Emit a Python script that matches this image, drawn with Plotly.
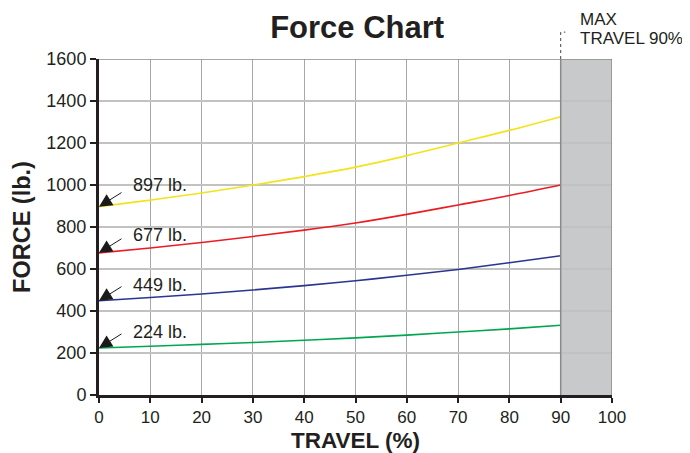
import plotly.graph_objects as go

travel = [0, 10, 20, 30, 40, 50, 60, 70, 80, 90]
force_897 = [897, 928, 962, 1000, 1040, 1085, 1140, 1200, 1260, 1325]
force_677 = [677, 700, 726, 755, 785, 819, 860, 905, 950, 1000]
force_449 = [449, 464, 481, 500, 521, 544, 570, 598, 630, 663]
force_224 = [224, 232, 241, 250, 261, 272, 285, 300, 315, 332]
labels = ["897 lb.", "677 lb.", "449 lb.", "224 lb."]
start_values = [897, 677, 449, 224]
x_ticks = [0, 10, 20, 30, 40, 50, 60, 70, 80, 90, 100]
y_ticks = [0, 200, 400, 600, 800, 1000, 1200, 1400, 1600]
max_travel = 90

series = [
    (force_897, "#f2e31b"),
    (force_677, "#ec1c24"),
    (force_449, "#2b3590"),
    (force_224, "#00a651"),
]

fig = go.Figure()
for vals, col in series:
    fig.add_trace(go.Scatter(x=travel, y=vals, mode="lines",
                             line=dict(color=col, width=1.6, shape="spline"),
                             showlegend=False, hoverinfo="skip"))

font_main = "Liberation Sans, Arial, sans-serif"
ink = "#231f20"

# shaded max travel zone
fig.add_shape(type="rect", xref="x", yref="y", x0=max_travel, x1=100, y0=0, y1=1600,
              fillcolor="#c8c9cb", line=dict(width=0), layer="below")
# darker line at 90
fig.add_shape(type="line", xref="x", yref="y", x0=max_travel, x1=max_travel, y0=0, y1=1600,
              line=dict(color="#8a8a8a", width=1.5))
# top and right borders
fig.add_shape(type="line", xref="x", yref="y", x0=0, x1=100, y0=1600, y1=1600,
              line=dict(color="#8a8a8a", width=1.5))
fig.add_shape(type="line", xref="x", yref="y", x0=100, x1=100, y0=0, y1=1600,
              line=dict(color="#8a8a8a", width=1.5))
# dashed bracket to label
fig.add_shape(type="path", xref="paper", yref="paper",
              path="M 0.9 1.0 L 0.9 1.08 L 0.909 1.08",
              line=dict(color="#444444", width=1, dash="dot"))

label_y = [1000, 760, 524, 300]
for lab, v, ly in zip(labels, start_values, label_y):
    fig.add_annotation(x=0, y=v, xref="x", yref="y", text="", showarrow=True,
                       ax=24, ay=-15, axref="pixel", ayref="pixel",
                       arrowhead=2, arrowsize=2.6, arrowwidth=1.0, arrowcolor="#1a1a1a")
    fig.add_annotation(x=6.2, y=ly, xref="x", yref="y", text=lab, showarrow=False,
                       xanchor="left", yanchor="middle",
                       font=dict(family=font_main, size=18, color=ink))

fig.add_annotation(x=0.934, y=1.119, xref="paper", yref="paper", xanchor="left", yanchor="middle",
                   text="MAX", showarrow=False,
                   font=dict(family=font_main, size=17, color=ink))
fig.add_annotation(x=0.934, y=1.061, xref="paper", yref="paper", xanchor="left", yanchor="middle",
                   text="TRAVEL 90%", showarrow=False,
                   font=dict(family=font_main, size=17, color=ink))

fig.update_layout(
    width=682, height=445,
    margin=dict(l=91, r=78, t=51, b=58, autoexpand=False),
    paper_bgcolor="white", plot_bgcolor="white",
    title=dict(text="<b>Force Chart</b>", x=0.512, xanchor="center",
               y=1 - 19 / 445, yanchor="middle", yref="container",
               font=dict(family=font_main, size=31, color=ink)),
    font=dict(family=font_main, color=ink),
)
fig.update_xaxes(range=[0, 100], tickvals=x_ticks, showgrid=True, gridcolor="#a8a8a8", gridwidth=1.3,
                 showline=True, linecolor=ink, linewidth=3, ticks="outside", ticklen=5,
                 tickcolor=ink, tickwidth=1.5, zeroline=False, automargin=False,
                 tickfont=dict(size=17),
                 title=dict(text="<b>TRAVEL (%)</b>", font=dict(size=22.5), standoff=8))
fig.update_yaxes(range=[0, 1600], tickvals=y_ticks, showgrid=True, gridcolor="#c2c2c2", gridwidth=2,
                 showline=True, linecolor=ink, linewidth=3, ticks="outside", ticklen=6,
                 tickcolor=ink, tickwidth=1.5, zeroline=False, automargin=False,
                 tickfont=dict(size=18),
                 title=dict(text="<b>FORCE (lb.)</b>", font=dict(size=23.5), standoff=10))

fig.write_html("out.html")
